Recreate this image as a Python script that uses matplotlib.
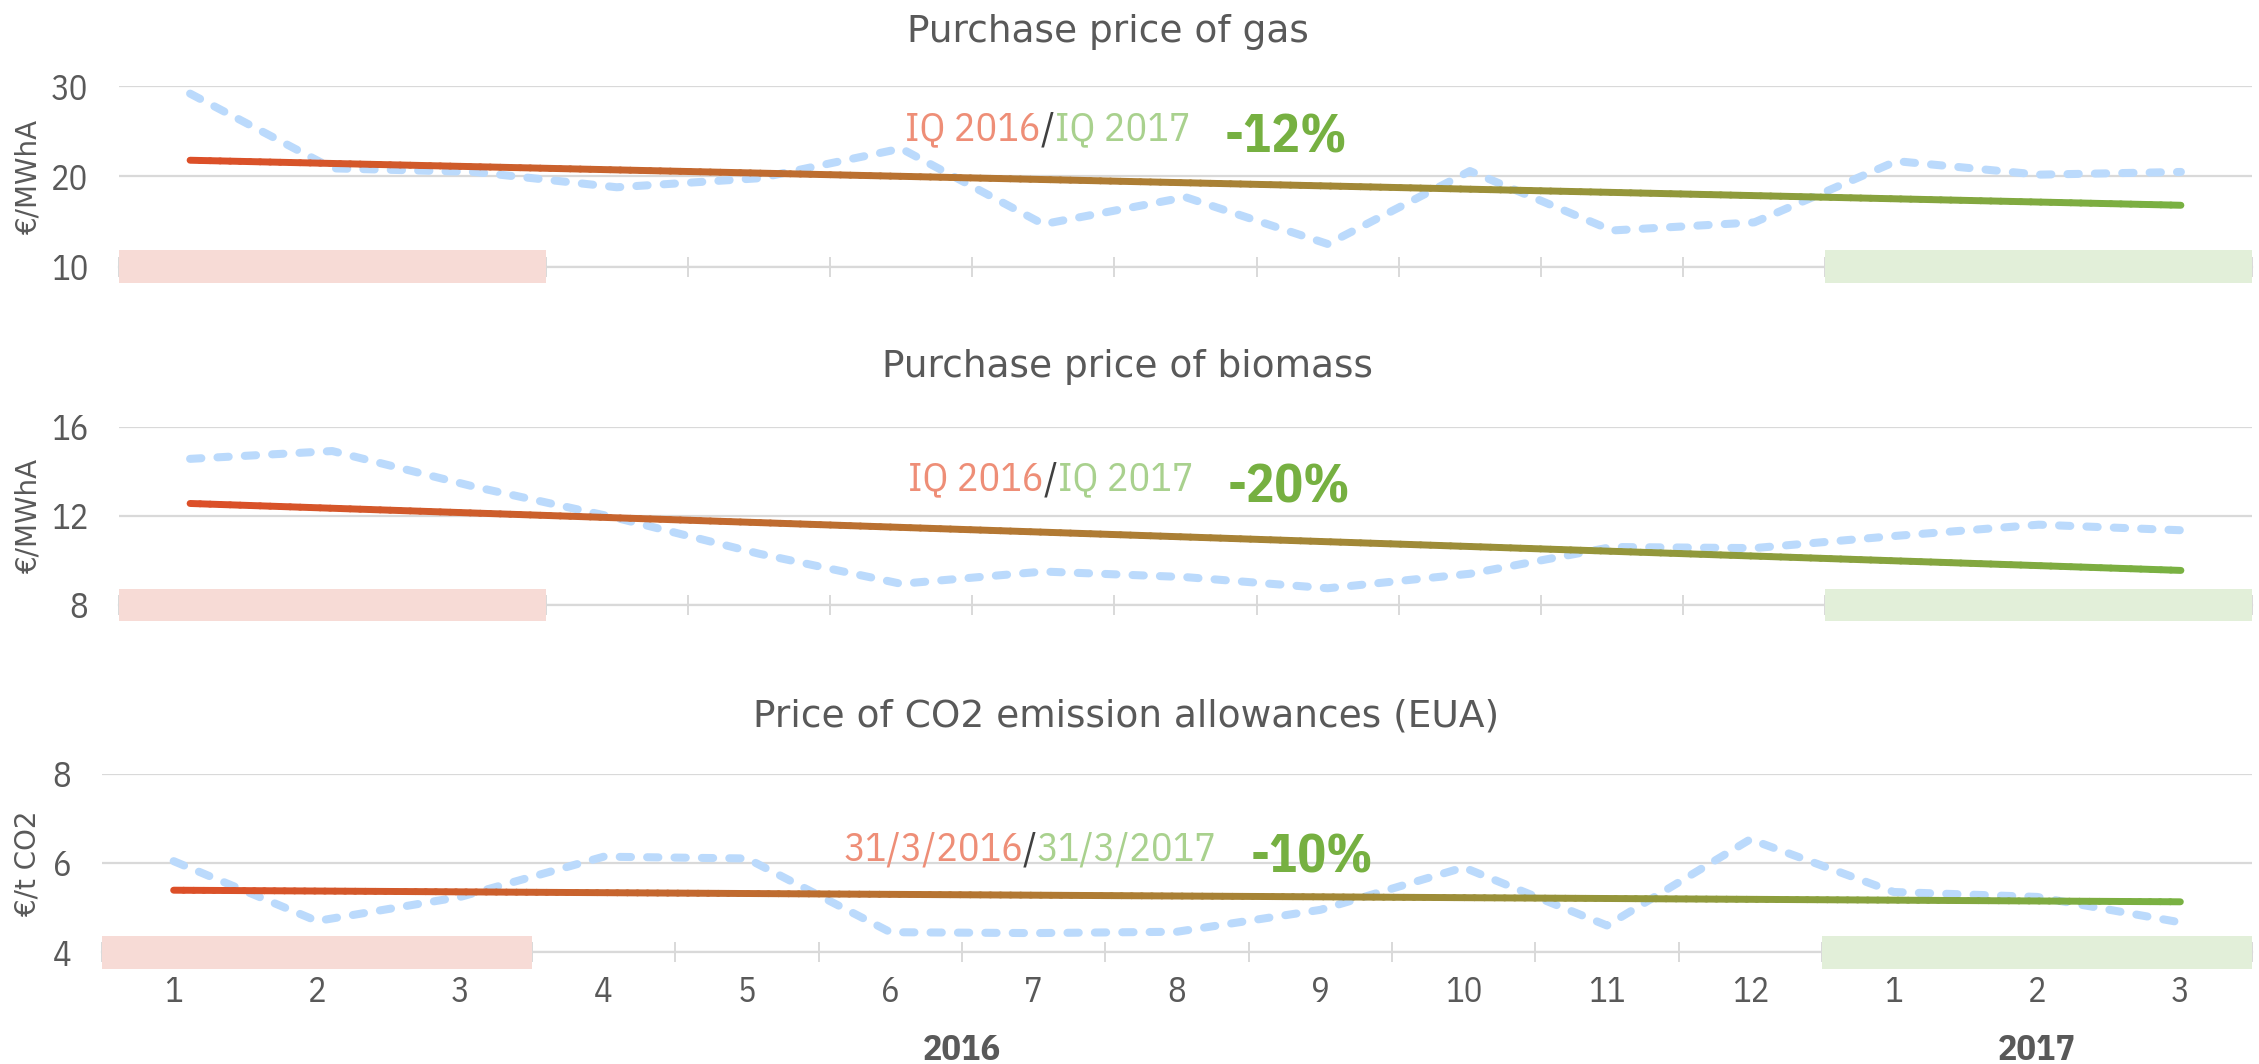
import numpy as np
import matplotlib
matplotlib.use("Agg")
import matplotlib.pyplot as plt
from matplotlib.collections import LineCollection
from matplotlib.colors import LinearSegmentedColormap
from matplotlib import transforms

# --- data ---
months = ["1", "2", "3", "4", "5", "6", "7", "8", "9", "10", "11", "12", "1", "2", "3"]
years = ["2016", "2017"]
year_centers = [6.5, 14]          # middle of the months of each year

gas = [29.2, 20.9, 20.5, 18.8, 19.8, 23.1, 14.7, 17.7, 12.5, 20.6, 14.0, 14.9, 21.7, 20.2, 20.5]
gas_trend = [21.8, 16.8]
biomass = [14.55, 14.9, 13.3, 11.9, 10.3, 8.95, 9.5, 9.25, 8.75, 9.4, 10.6, 10.55, 11.1, 11.6, 11.35]
biomass_trend = [12.55, 9.55]
co2 = [6.04, 4.7, 5.24, 6.14, 6.1, 4.45, 4.43, 4.46, 4.95, 5.9, 4.6, 6.53, 5.35, 5.24, 4.67]
co2_trend = [5.39, 5.13]

titles = ["Purchase price of gas", "Purchase price of biomass",
          "Price of CO2 emission allowances (EUA)"]
ylabels = ["€/MWhA", "€/MWhA", "€/t CO2"]
yticks = [[10, 20, 30], [8, 12, 16], [4, 6, 8]]
periods = [["IQ 2016", "IQ 2017"], ["IQ 2016", "IQ 2017"], ["31/3/2016", "31/3/2017"]]
changes = ["-12%", "-20%", "-10%"]
q1_2016 = (1, 3)
q1_2017 = (13, 15)

# --- style ---
GRAY = "#595959"
GRID = "#D9D9D9"
DASH = "#BBDAFC"
OLD = "#EE8E77"
NEW = "#A9D18E"
PCT = "#76B041"
NARROW = ["IBM Plex Sans Condensed", "DejaVu Sans"]
trend_cmap = LinearSegmentedColormap.from_list("trend", ["#DC4F28", "#79B142"])

W, H = 2259, 1064
fig = plt.figure(figsize=(W / 100, H / 100), dpi=100)

# axes boxes in pixels: left, right, top, bottom
boxes = [(119, 2252, 86.4, 266.5), (119, 2252, 426.5, 605), (102, 2252, 773.6, 952.3)]
title_pos = [(1108, 32), (1127, 367), (1126, 716)]
note_x = [0.3685, 0.370, 0.3447]
note_y = [0.76, 0.70, 0.575]

series = [gas, biomass, co2]
trends = [gas_trend, biomass_trend, co2_trend]
x = np.arange(1, len(months) + 1)

for i, (values, trend) in enumerate(zip(series, trends)):
    l, r, t, b = boxes[i]
    ax = fig.add_axes([l / W, 1 - b / H, (r - l) / W, (b - t) / H])
    lo, hi = yticks[i][0], yticks[i][-1]
    ax.set_ylim(lo, hi)
    ax.set_xlim(0.5, len(months) + 0.5)

    for s in ["top", "right", "left"]:
        ax.spines[s].set_visible(False)
    ax.spines["bottom"].set_color(GRID)
    ax.spines["bottom"].set_linewidth(1.6)

    ax.set_yticks(yticks[i])
    ax.yaxis.grid(True, color=GRID, linewidth=1.6)
    ax.set_axisbelow(True)
    ax.tick_params(axis="y", length=0, pad=22, labelsize=25, labelcolor=GRAY)
    for lab in ax.get_yticklabels():
        lab.set_family(NARROW)

    # month boundaries as tick marks, month labels in between
    ax.set_xticks(np.arange(0.5, len(months) + 1, 1.0))
    ax.set_xticks(x, minor=True)
    ax.tick_params(axis="x", which="major", direction="inout", length=15,
                   width=1.4, color=GRID, labelbottom=False)
    ax.tick_params(axis="x", which="minor", length=0)
    if i == 2:
        ax.set_xticklabels(months, minor=True)
        ax.tick_params(axis="x", which="minor", pad=16, labelsize=25, labelcolor=GRAY)
        for lab in ax.get_xticklabels(minor=True):
            lab.set_family(NARROW)
        tr = transforms.blended_transform_factory(ax.transData, ax.transAxes)
        for yr, xc in zip(years, year_centers):
            ax.text(xc, -0.55, yr, transform=tr, ha="center", va="center",
                    fontsize=26, fontweight="bold", color=GRAY, family=NARROW)
    else:
        ax.tick_params(axis="x", which="minor", labelbottom=False)

    # first quarter highlights
    ax.axvspan(q1_2016[0] - 0.5, q1_2016[1] + 0.5, ymin=-0.092, ymax=0.092,
               color="#F7DBD6", lw=0, clip_on=False, zorder=2.6)
    ax.axvspan(q1_2017[0] - 0.5, q1_2017[1] + 0.5, ymin=-0.092, ymax=0.092,
               color="#E2EFD9", lw=0, clip_on=False, zorder=2.6)

    ax.plot(x, values, color=DASH, lw=5.8, dashes=(1.4, 2.0),
            dash_capstyle="round", solid_joinstyle="round", zorder=3)

    # linear trend with red -> green gradient
    tx = np.linspace(x[0], x[-1], 200)
    ty = np.linspace(trend[0], trend[1], 200)
    pts = np.column_stack([tx, ty]).reshape(-1, 1, 2)
    segs = np.concatenate([pts[:-1], pts[1:]], axis=1)
    lc = LineCollection(segs, colors=trend_cmap(np.linspace(0, 1, len(segs))),
                        linewidths=5, capstyle="round", zorder=4)
    ax.add_collection(lc)

    ax.set_ylabel(ylabels[i], fontsize=20, color=GRAY)
    ax.yaxis.set_label_coords(42 / W, 0.5, transform=transforms.blended_transform_factory(
        fig.transFigure, ax.transAxes))

    fig.text(title_pos[i][0] / W, 1 - title_pos[i][1] / H, titles[i], ha="center",
             va="center", fontsize=27, color=GRAY)

    # period comparison note
    t1 = ax.text(note_x[i], note_y[i], periods[i][0], transform=ax.transAxes,
                 ha="left", va="center", fontsize=29, color=OLD, family=NARROW)
    t2 = ax.annotate("/", xy=(1, 0.5), xycoords=t1, ha="left", va="center",
                     fontsize=29, color="#404040", family=NARROW)
    t3 = ax.annotate(periods[i][1], xy=(1, 0.5), xycoords=t2, ha="left", va="center",
                     fontsize=29, color=NEW, family=NARROW)
    ax.annotate(changes[i], xy=(1, 0.5), xycoords=t3, xytext=(34, -8),
                textcoords="offset pixels", ha="left", va="center",
                fontsize=38, fontweight="bold", color=PCT, family=NARROW)

fig.savefig("out.png", dpi=100, facecolor="white")
